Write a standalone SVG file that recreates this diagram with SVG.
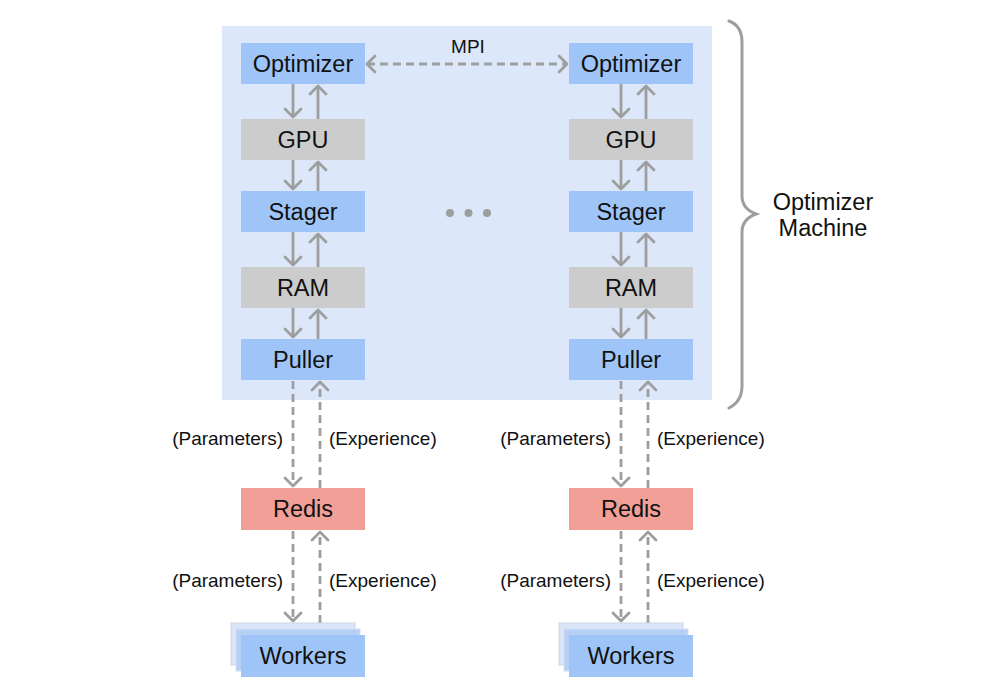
<svg xmlns="http://www.w3.org/2000/svg" width="1004" height="700" viewBox="0 0 1004 700">
<style>
  text { font-family: "Liberation Sans", Arial, sans-serif; fill: #111; }
  .bt { font-size: 23.5px; text-anchor: middle; }
  .lb { font-size: 19px; }
  .blue { fill: #9fc5f8; }
  .gray { fill: #cccccc; }
  .red { fill: #f2a097; }
  .ln { stroke: #9e9e9e; stroke-width: 2.8; fill: none; }
  .dash { stroke-dasharray: 8 5; }
</style>
<defs>
  <marker id="ah" viewBox="-2 -2 14 20" refX="9" refY="8" markerWidth="14" markerHeight="20" markerUnits="userSpaceOnUse" orient="auto-start-reverse" overflow="visible">
    <path d="M1,0 L9,8 L1,16" fill="none" stroke="#9e9e9e" stroke-width="2.8" stroke-linecap="round" stroke-linejoin="round"/>
  </marker>
</defs>
<rect id="panel" x="222" y="26" width="490" height="374" fill="#dce8fa"/>

<g id="connectors">
  <!-- MPI -->
  <line class="ln dash" x1="367" y1="64" x2="567" y2="64" marker-start="url(#ah)" marker-end="url(#ah)"/>
  <!-- left column solid -->
  <line class="ln" x1="293" y1="84" x2="293" y2="117" marker-end="url(#ah)"/>
  <line class="ln" x1="318" y1="119" x2="318" y2="86" marker-end="url(#ah)"/>
  <line class="ln" x1="293" y1="160" x2="293" y2="189" marker-end="url(#ah)"/>
  <line class="ln" x1="318" y1="191" x2="318" y2="162" marker-end="url(#ah)"/>
  <line class="ln" x1="293" y1="232" x2="293" y2="265" marker-end="url(#ah)"/>
  <line class="ln" x1="318" y1="267" x2="318" y2="234" marker-end="url(#ah)"/>
  <line class="ln" x1="293" y1="308" x2="293" y2="337" marker-end="url(#ah)"/>
  <line class="ln" x1="318" y1="339" x2="318" y2="310" marker-end="url(#ah)"/>
  <!-- right column solid -->
  <line class="ln" x1="621" y1="84" x2="621" y2="117" marker-end="url(#ah)"/>
  <line class="ln" x1="646" y1="119" x2="646" y2="86" marker-end="url(#ah)"/>
  <line class="ln" x1="621" y1="160" x2="621" y2="189" marker-end="url(#ah)"/>
  <line class="ln" x1="646" y1="191" x2="646" y2="162" marker-end="url(#ah)"/>
  <line class="ln" x1="621" y1="232" x2="621" y2="265" marker-end="url(#ah)"/>
  <line class="ln" x1="646" y1="267" x2="646" y2="234" marker-end="url(#ah)"/>
  <line class="ln" x1="621" y1="308" x2="621" y2="337" marker-end="url(#ah)"/>
  <line class="ln" x1="646" y1="339" x2="646" y2="310" marker-end="url(#ah)"/>
  <!-- left dashed -->
  <line class="ln dash" x1="293" y1="381" x2="293" y2="486" marker-end="url(#ah)"/>
  <line class="ln dash" x1="320" y1="488" x2="320" y2="382" marker-end="url(#ah)"/>
  <line class="ln dash" x1="293" y1="531" x2="293" y2="621" marker-end="url(#ah)"/>
  <line class="ln dash" x1="320" y1="623" x2="320" y2="532" marker-end="url(#ah)"/>
  <!-- right dashed -->
  <line class="ln dash" x1="621" y1="381" x2="621" y2="486" marker-end="url(#ah)"/>
  <line class="ln dash" x1="648" y1="488" x2="648" y2="382" marker-end="url(#ah)"/>
  <line class="ln dash" x1="621" y1="531" x2="621" y2="621" marker-end="url(#ah)"/>
  <line class="ln dash" x1="648" y1="623" x2="648" y2="532" marker-end="url(#ah)"/>
</g>

<g id="labels">
  <text class="lb" x="468" y="53" text-anchor="middle">MPI</text>
  <text class="lb" x="283" y="445" text-anchor="end">(Parameters)</text>
  <text class="lb" x="329" y="445">(Experience)</text>
  <text class="lb" x="283" y="587" text-anchor="end">(Parameters)</text>
  <text class="lb" x="329" y="587">(Experience)</text>
  <text class="lb" x="611" y="445" text-anchor="end">(Parameters)</text>
  <text class="lb" x="657" y="445">(Experience)</text>
  <text class="lb" x="611" y="587" text-anchor="end">(Parameters)</text>
  <text class="lb" x="657" y="587">(Experience)</text>
</g>

<g id="optimizer1"><rect class="blue" x="241" y="43" width="124" height="41"/><text class="bt" x="303" y="72">Optimizer</text></g>
<g id="gpu1"><rect class="gray" x="241" y="119" width="124" height="41"/><text class="bt" x="303" y="148">GPU</text></g>
<g id="stager1"><rect class="blue" x="241" y="191" width="124" height="41"/><text class="bt" x="303" y="220">Stager</text></g>
<g id="ram1"><rect class="gray" x="241" y="267" width="124" height="41"/><text class="bt" x="303" y="296">RAM</text></g>
<g id="puller1"><rect class="blue" x="241" y="339" width="124" height="41"/><text class="bt" x="303" y="368">Puller</text></g>
<g id="redis1"><rect class="red" x="241" y="488" width="124" height="42"/><text class="bt" x="303" y="517">Redis</text></g>
<g id="workers1">
  <rect x="231" y="623" width="124" height="42" fill="#dae6f8" stroke="#cdd5e0" stroke-width="1"/>
  <rect x="236" y="629" width="124" height="42" fill="#b6cff5" stroke="#d3e0f3" stroke-width="1"/>
  <rect class="blue" x="241" y="635" width="124" height="42"/>
  <text class="bt" x="303" y="664">Workers</text>
</g>

<g id="optimizer2"><rect class="blue" x="569" y="43" width="124" height="41"/><text class="bt" x="631" y="72">Optimizer</text></g>
<g id="gpu2"><rect class="gray" x="569" y="119" width="124" height="41"/><text class="bt" x="631" y="148">GPU</text></g>
<g id="stager2"><rect class="blue" x="569" y="191" width="124" height="41"/><text class="bt" x="631" y="220">Stager</text></g>
<g id="ram2"><rect class="gray" x="569" y="267" width="124" height="41"/><text class="bt" x="631" y="296">RAM</text></g>
<g id="puller2"><rect class="blue" x="569" y="339" width="124" height="41"/><text class="bt" x="631" y="368">Puller</text></g>
<g id="redis2"><rect class="red" x="569" y="488" width="124" height="42"/><text class="bt" x="631" y="517">Redis</text></g>
<g id="workers2">
  <rect x="559" y="623" width="124" height="42" fill="#dae6f8" stroke="#cdd5e0" stroke-width="1"/>
  <rect x="564" y="629" width="124" height="42" fill="#b6cff5" stroke="#d3e0f3" stroke-width="1"/>
  <rect class="blue" x="569" y="635" width="124" height="42"/>
  <text class="bt" x="631" y="664">Workers</text>
</g>

<g id="ellipsis" fill="#9e9e9e">
  <circle cx="450" cy="213" r="4"/>
  <circle cx="468.5" cy="213" r="4"/>
  <circle cx="487" cy="213" r="4"/>
</g>

<g id="brace">
  <path d="M729,21 C737,24 742,30 742,42 L742,196 C742,206 748,211 756,214 C748,217 742,222 742,232 L742,386 C742,398 737,404 729,408" fill="none" stroke="#9e9e9e" stroke-width="3" stroke-linecap="round"/>
  <text x="823" y="210" font-size="23.5" text-anchor="middle">Optimizer</text>
  <text x="823" y="236" font-size="23.5" text-anchor="middle">Machine</text>
</g>
</svg>
